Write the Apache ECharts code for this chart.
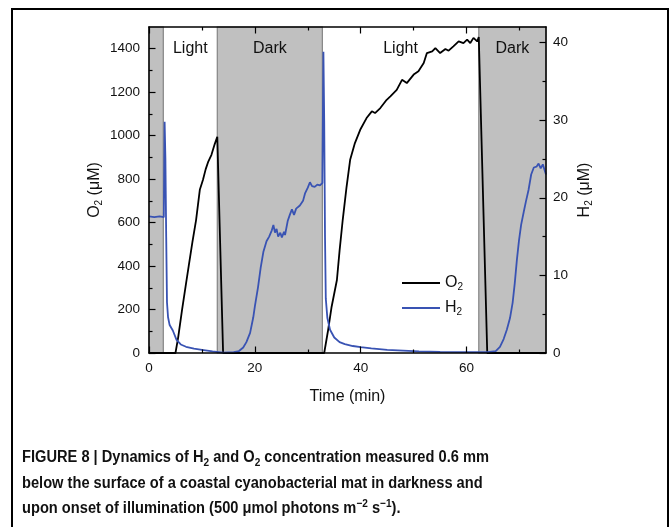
<!DOCTYPE html>
<html>
<head>
<meta charset="utf-8">
<script src="https://cdn.jsdelivr.net/npm/echarts@6/dist/echarts.min.js"></script>
<style>
  html, body { margin: 0; padding: 0; background: #fff; }
  #wrap { position: relative; width: 671px; height: 527px; overflow: hidden; background: #fff; }
  #chart { position: absolute; left: 0; top: 0; width: 671px; height: 527px; }
  #frame { position: absolute; left: 11px; top: 8px; width: 654px; height: 600px; border: 2px solid #000; pointer-events: none; }
  #caption { position: absolute; left: 22px; top: 444px; font-family: 'Liberation Sans', Arial, sans-serif; font-weight: bold; font-size: 16px; line-height: 25.7px; color: #111; white-space: nowrap; transform-origin: 0 0; }
  #caption sub, #caption sup { font-size: 11px; line-height: 0; }
</style>
</head>
<body>
<div id="wrap">
  <div id="chart"></div>
  <div id="frame"></div>
  <div id="caption">
    <div><span id="capLine1">FIGURE 8 | Dynamics of H<sub>2</sub> and O<sub>2</sub> concentration measured 0.6 mm</span></div>
    <div>below the surface of a coastal cyanobacterial mat in darkness and</div>
    <div>upon onset of illumination (500 μmol photons m<sup>−2</sup> s<sup>−1</sup>).</div>
  </div>
</div>
<script>
// O2 (µM, left axis) – [time (min), value]
const o2Points = [
  [0, 0], [5.0, 0], [5.5, 70], [6.25, 200], [7.0, 320], [7.5, 400], [8.2, 510],
  [8.9, 613], [9.6, 751], [10.2, 797], [10.7, 845], [11.2, 881], [11.8, 912],
  [12.4, 960], [12.9, 995], [14.0, 0], [33.1, 0], [33.8, 100], [34.5, 213],
  [35.5, 336], [36.0, 470], [36.6, 613], [37.3, 760], [38.0, 889], [38.9, 966],
  [39.9, 1027], [41.1, 1081], [42.1, 1112], [42.7, 1104], [43.7, 1127],
  [44.9, 1165], [45.6, 1181], [46.8, 1211], [47.8, 1257], [48.7, 1242],
  [50.0, 1281], [50.9, 1296], [51.9, 1334], [52.5, 1380], [53.5, 1388],
  [54.1, 1403], [55.0, 1380], [56.0, 1399], [56.6, 1391], [57.5, 1411],
  [58.5, 1434], [59.4, 1426], [60.1, 1442], [60.7, 1426], [61.3, 1450],
  [62.0, 1434], [62.3, 1454], [63.9, 0], [75, 0]
];

// H2 (µM, right axis) – [time (min), value]
const h2Points = [
  [0, 17.6], [1, 17.5], [2, 17.6], [2.8, 17.5], [2.95, 29.8], [3.1, 25],
  [3.25, 15], [3.4, 6.5], [3.6, 4.6], [3.9, 3.6], [4.5, 2.9], [5.2, 1.7],
  [6, 1.1], [7, 0.8], [8.5, 0.55], [10, 0.4], [12, 0.2], [14, 0.05], [16, 0.1],
  [17, 0.25], [17.8, 0.7], [18.4, 1.4], [19.1, 2.6], [19.7, 4.6], [20.0, 6.0],
  [20.6, 8.5], [21.1, 11.0], [21.6, 13.0], [22.2, 14.4], [22.7, 15.0],
  [23.2, 15.8], [23.5, 16.5], [23.8, 15.5], [24.1, 16.0], [24.4, 15.0],
  [24.8, 15.5], [25.1, 14.9], [25.5, 15.6], [25.7, 15.2], [26.2, 17.0],
  [26.6, 17.8], [27.0, 18.5], [27.4, 17.8], [27.8, 18.6], [28.5, 19.0],
  [29.1, 19.6], [29.5, 20.6], [30.0, 21.3], [30.4, 22.0], [30.8, 21.5],
  [31.3, 21.4], [31.8, 21.7], [32.3, 21.6], [32.75, 21.9], [32.95, 38.8],
  [33.1, 30], [33.25, 15], [33.4, 7], [33.7, 4.5], [34.2, 3.0], [35, 2.0],
  [36, 1.4], [37, 1.15], [38.5, 0.9], [40, 0.75], [42, 0.6], [45, 0.4],
  [48, 0.3], [51, 0.2], [55, 0.15], [60, 0.1], [64, 0.1], [65.5, 0.25],
  [66.3, 0.8], [67, 1.8], [67.6, 3.0], [68.2, 4.5], [68.7, 6.5], [69.1, 9],
  [69.5, 12], [69.9, 14.5], [70.3, 16.5], [70.8, 18.2], [71.2, 19.5],
  [71.7, 21.0], [72.2, 23.0], [72.7, 23.9], [73.2, 24.0], [73.6, 24.4],
  [74.0, 23.8], [74.4, 24.3], [75, 23.0]
];

const darkPeriods = [[0, 2.7], [12.9, 32.75], [62.3, 75]];
const lightPeriods = [[2.7, 12.9], [32.75, 62.3]];

const xMajor = [0, 20, 40, 60];
const xMinor = [10, 30, 50, 70];
const o2Major = [0, 200, 400, 600, 800, 1000, 1200, 1400];
const o2Minor = [100, 300, 500, 700, 900, 1100, 1300];
const h2Major = [0, 10, 20, 30, 40];
const h2Minor = [5, 15, 25, 35];

const FONT = "'Liberation Sans', Arial, sans-serif";
const subRich = {
  n: { fontSize: 16, fontFamily: FONT, color: '#111' },
  s: { fontSize: 10, fontFamily: FONT, color: '#111', padding: [8, 0, 0, 0] }
};

const MAJOR = 6.5;
const MINOR = 3.5;
const tickStyle = { color: '#000', width: 1.2 };

const majorTick = (values) => ({ customValues: values, inside: true, length: MAJOR, lineStyle: tickStyle });
const minorAxis = (position, max, values) => ({
  type: 'value', position: position, min: 0, max: max, z: 10,
  axisLine: { show: false, onZero: false },
  axisLabel: { show: false },
  splitLine: { show: false },
  axisTick: { customValues: values, inside: true, length: MINOR, lineStyle: tickStyle }
});

const chart = echarts.init(document.getElementById('chart'));

const areaData = [];
darkPeriods.forEach((p, i) => {
  areaData.push([
    { name: i === 0 ? '' : 'Dark', xAxis: p[0] },
    { xAxis: p[1] }
  ]);
});
lightPeriods.forEach((p) => {
  areaData.push([
    { name: 'Light', xAxis: p[0], itemStyle: { color: 'rgba(0,0,0,0)', borderWidth: 0 } },
    { xAxis: p[1] }
  ]);
});

const plain = (v) => String(v);

chart.setOption({
  animation: false,
  textStyle: { fontFamily: FONT },
  grid: { left: 149, right: 125, top: 27, bottom: 174 },
  legend: {
    orient: 'vertical',
    left: 402,
    top: 275,
    padding: 0,
    icon: 'rect',
    itemWidth: 38,
    itemHeight: 2,
    itemGap: 8,
    data: ['O2', 'H2'],
    formatter: (name) => '{n|' + name.charAt(0) + '}{s|2}',
    textStyle: { rich: subRich }
  },
  xAxis: [
    {
      type: 'value', position: 'bottom', min: 0, max: 75, z: 10,
      name: 'Time (min)', nameLocation: 'middle', nameGap: 36, nameMoveOverlap: false,
      nameTextStyle: { fontSize: 16, color: '#111', fontFamily: FONT },
      axisLine: { onZero: false, lineStyle: { color: '#000', width: 1.5 } },
      axisTick: majorTick(xMajor),
      axisLabel: { customValues: xMajor, formatter: plain, fontSize: 13.5, color: '#111', margin: 8 },
      splitLine: { show: false }
    },
    minorAxis('bottom', 75, xMinor),
    {
      type: 'value', position: 'top', min: 0, max: 75, z: 10,
      axisLine: { onZero: false, lineStyle: { color: '#000', width: 1.5 } },
      axisTick: majorTick(xMajor),
      axisLabel: { show: false },
      splitLine: { show: false }
    },
    minorAxis('top', 75, xMinor)
  ],
  yAxis: [
    {
      type: 'value', position: 'left', min: 0, max: 1500, z: 10,
      name: '{n|O}{s|2}{n| (μM)}', nameLocation: 'middle', nameGap: 45, nameRotate: 90,
      nameMoveOverlap: false,
      nameTextStyle: { rich: subRich },
      axisLine: { onZero: false, lineStyle: { color: '#000', width: 1.5 } },
      axisTick: majorTick(o2Major),
      axisLabel: { customValues: o2Major, formatter: plain, fontSize: 13.5, color: '#111', margin: 9 },
      splitLine: { show: false }
    },
    minorAxis('left', 1500, o2Minor),
    {
      type: 'value', position: 'right', min: 0, max: 42, z: 10,
      name: '{n|H}{s|2}{n| (μM)}', nameLocation: 'middle', nameGap: 30, nameRotate: 90,
      nameMoveOverlap: false,
      nameTextStyle: { rich: subRich },
      axisLine: { onZero: false, lineStyle: { color: '#000', width: 1.5 } },
      axisTick: majorTick(h2Major),
      axisLabel: { customValues: h2Major, formatter: plain, fontSize: 13.5, color: '#111', margin: 7 },
      splitLine: { show: false }
    },
    minorAxis('right', 42, h2Minor)
  ],
  series: [
    {
      name: 'O2',
      type: 'line',
      xAxisIndex: 0,
      yAxisIndex: 0,
      data: o2Points,
      symbol: 'none',
      lineStyle: { color: '#000', width: 1.8 },
      itemStyle: { color: '#000' },
      markArea: {
        silent: true,
        itemStyle: { color: '#c0c0c0', borderColor: '#858585', borderWidth: 1.2 },
        label: { show: true, position: 'insideTop', distance: 14, fontSize: 16, color: '#111', fontFamily: FONT },
        data: areaData
      }
    },
    {
      name: 'H2',
      type: 'line',
      xAxisIndex: 0,
      yAxisIndex: 2,
      data: h2Points,
      symbol: 'none',
      lineStyle: { color: '#3953b3', width: 1.8 },
      itemStyle: { color: '#3953b3' }
    }
  ]
});

const capLine = document.getElementById('capLine1');
const w = capLine.getBoundingClientRect().width;
document.getElementById('caption').style.transform = 'scaleX(' + (467 / w).toFixed(4) + ')';
</script>
</body>
</html>
